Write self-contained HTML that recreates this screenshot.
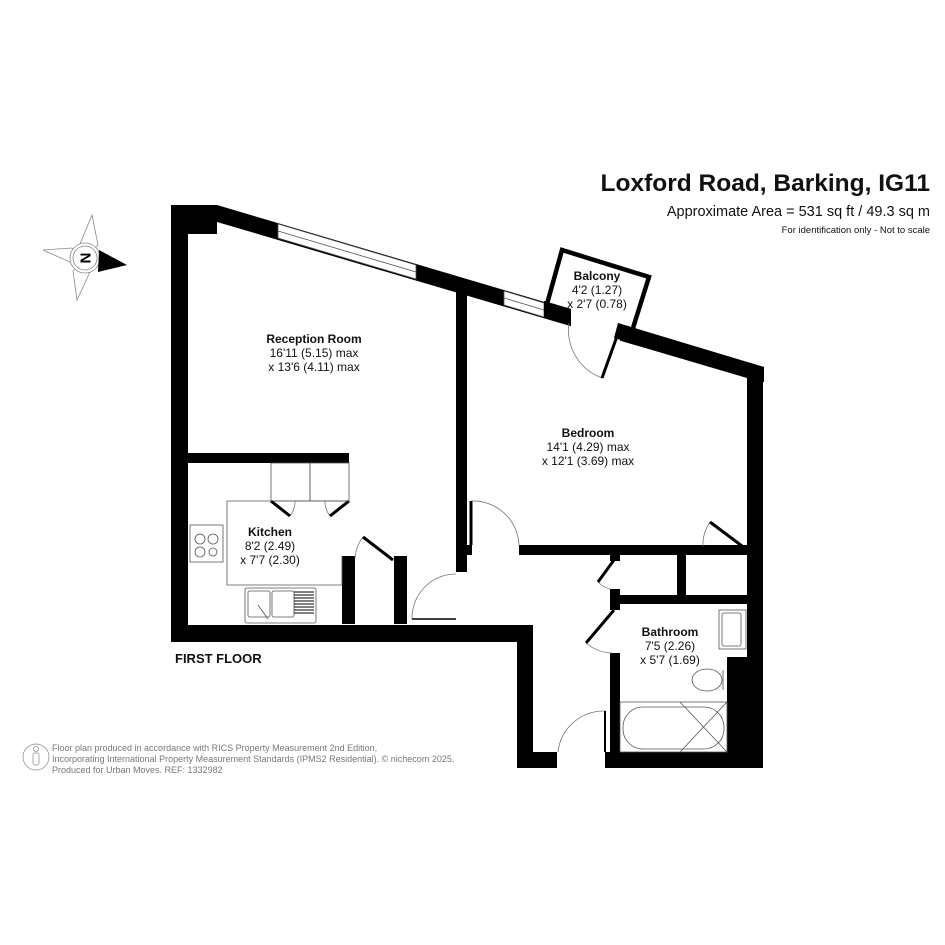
<!DOCTYPE html>
<html><head><meta charset="utf-8"><style>
html,body{margin:0;padding:0;background:#fff}
svg{display:block}
text{font-family:"Liberation Sans",Arial,sans-serif}
</style></head><body>
<svg width="945" height="945" viewBox="0 0 945 945" xmlns="http://www.w3.org/2000/svg">
<rect width="945" height="945" fill="#fff"/>
<!-- Title -->
<text x="930" y="191" text-anchor="end" font-size="24.5" font-weight="bold" fill="#111">Loxford Road, Barking, IG11</text>
<text x="930" y="216" text-anchor="end" font-size="14.5" fill="#111">Approximate Area = 531 sq ft / 49.3 sq m</text>
<text x="930" y="233" text-anchor="end" font-size="9.5" fill="#111">For identification only - Not to scale</text>

<!-- Compass -->
<g stroke="#888" stroke-width="0.8" fill="#fff">
<polygon points="92,215 98,245 85,258 80,244"/>
<polygon points="43,250 72,248 85,258 72,263"/>
<polygon points="77,300 73,271 85,258 90,272"/>
<circle cx="85" cy="258" r="15"/>
<circle cx="85" cy="258" r="12"/>
</g>
<polygon points="99,250 127,265 98,272" fill="#000"/>
<text x="85" y="258" font-size="15" font-weight="bold" text-anchor="middle" dominant-baseline="central" transform="rotate(90 85 258)">N</text>

<!-- Walls -->
<g fill="#000">
<rect x="171" y="205" width="17" height="437"/>
<rect x="171" y="205" width="46" height="29"/>
<polygon points="217,205 764,367 764,382 747,378 217,222"/>
<rect x="747" y="367" width="16" height="401"/>
<rect x="188" y="453" width="161" height="10"/>
<rect x="456" y="280" width="11" height="292"/>
<rect x="466" y="545" width="6" height="10"/>
<rect x="171" y="625" width="362" height="17"/>
<rect x="517" y="625" width="16" height="143"/>
<rect x="517" y="752" width="40" height="16"/>
<rect x="605" y="752" width="158" height="16"/>
<rect x="610" y="653" width="10" height="115"/>
<rect x="519" y="545" width="228" height="10"/>
<rect x="677" y="555" width="9" height="40"/>
<rect x="610" y="595" width="137" height="9"/>
<rect x="610" y="555" width="10" height="6"/>
<rect x="610" y="589" width="10" height="21"/>
<rect x="727" y="657" width="36" height="111"/>
<rect x="342" y="556" width="13" height="68"/>
<rect x="394" y="556" width="13" height="68"/>
</g>
<!-- opening at balcony door -->
<polygon points="571,305 620,320 620,345 571,330" fill="#fff"/>
<polygon points="544,301 571,309 571,326 544,318" fill="#000"/>
<polygon points="618,323 764,367 764,382 614,338" fill="#000"/>
<!-- Windows -->
<g stroke="#555" stroke-width="0.8" fill="#fff">
<polygon points="278,224 416,265 416,279 278,238"/>
<line x1="278" y1="231" x2="416" y2="272"/>
<polygon points="504,291 544,303 544,317 504,305"/>
<line x1="504" y1="298" x2="544" y2="310"/>
</g>
<!-- Balcony (open at bottom) -->
<polyline points="547,304 562,250 649,277 633,328" fill="none" stroke="#000" stroke-width="4.5"/>
<polygon points="544,301 571,309 571,326 544,318" fill="#000"/>

<!-- Doors -->
<g stroke="#777" stroke-width="0.8" fill="none">
<path d="M569,323 A51,51 0 0 0 602,378"/>
<path d="M471,501 A46,46 0 0 1 519,545"/>
<path d="M412,619 A44,44 0 0 1 456,574"/>
<path d="M605,711 A46,46 0 0 0 558,752"/>
<path d="M586,643 A43,43 0 0 0 612,653"/>
<path d="M598,582 A27,27 0 0 0 610,589"/>
<path d="M710,522 A40,40 0 0 0 703,546"/>
<path d="M363,537 A38,38 0 0 0 355,558"/>
<path d="M290,516 A24,24 0 0 0 295,501"/>
<path d="M330,516 A24,24 0 0 1 325,501"/>
</g>
<g stroke="#000" stroke-width="3" fill="none">
<line x1="620" y1="328" x2="602" y2="378"/>
<line x1="471" y1="501" x2="471" y2="545"/>
<line x1="412" y1="619" x2="456" y2="619" stroke-width="1.5"/>
<line x1="605" y1="711" x2="605" y2="752" stroke-width="2"/>
<line x1="614" y1="610" x2="586" y2="643"/>
<line x1="614" y1="560" x2="598" y2="582"/>
<line x1="742" y1="546" x2="710" y2="522"/>
<line x1="393" y1="560" x2="363" y2="537"/>
<line x1="271" y1="501" x2="290" y2="516"/>
<line x1="349" y1="501" x2="330" y2="516"/>
</g>

<!-- Kitchen fixtures -->
<g stroke="#555" stroke-width="0.8" fill="none">
<rect x="271" y="463" width="39" height="38"/>
<rect x="310" y="463" width="39" height="38"/>
<polyline points="342,556 342,585 227,585 227,501 349,501"/>
<rect x="190" y="525" width="33" height="37"/>
<circle cx="200" cy="539" r="5"/><circle cx="213" cy="539" r="5"/>
<circle cx="200" cy="552" r="5"/><circle cx="213" cy="552" r="4"/>
<rect x="245" y="588" width="71" height="35" rx="2"/>
<rect x="248" y="591" width="22" height="26" rx="2"/>
<rect x="272" y="591" width="22" height="26" rx="2"/>
<line x1="258" y1="605" x2="268" y2="619"/>
</g>
<g stroke="#000" stroke-width="1">
<line x1="294" y1="592" x2="314" y2="592"/><line x1="294" y1="595" x2="314" y2="595"/>
<line x1="294" y1="598" x2="314" y2="598"/><line x1="294" y1="601" x2="314" y2="601"/>
<line x1="294" y1="604" x2="314" y2="604"/><line x1="294" y1="607" x2="314" y2="607"/>
<line x1="294" y1="610" x2="314" y2="610"/><line x1="294" y1="613" x2="314" y2="613"/>
</g>

<!-- Bathroom fixtures -->
<g stroke="#555" stroke-width="0.8" fill="none">
<rect x="719" y="610" width="27" height="39"/>
<rect x="722" y="613" width="19" height="33" rx="2"/>
<ellipse cx="707" cy="680" rx="15" ry="11"/>
<line x1="723" y1="670" x2="723" y2="690"/>
<rect x="620" y="702" width="107" height="50"/>
<rect x="623" y="707" width="101" height="42" rx="20"/>
<line x1="680" y1="702" x2="727" y2="752"/>
<line x1="680" y1="752" x2="727" y2="702"/>
</g>

<!-- Labels -->
<g text-anchor="middle" font-size="12" fill="#111">
<text x="314" y="343" font-weight="bold">Reception Room</text>
<text x="314" y="357">16'11 (5.15) max</text>
<text x="314" y="371">x 13'6 (4.11) max</text>
<text x="597" y="280" font-weight="bold">Balcony</text>
<text x="597" y="294">4'2 (1.27)</text>
<text x="597" y="308">x 2'7 (0.78)</text>
<text x="588" y="437" font-weight="bold">Bedroom</text>
<text x="588" y="451">14'1 (4.29) max</text>
<text x="588" y="465">x 12'1 (3.69) max</text>
<text x="270" y="536" font-weight="bold">Kitchen</text>
<text x="270" y="550">8'2 (2.49)</text>
<text x="270" y="564">x 7'7 (2.30)</text>
<text x="670" y="636" font-weight="bold">Bathroom</text>
<text x="670" y="650">7'5 (2.26)</text>
<text x="670" y="664">x 5'7 (1.69)</text>
</g>
<text x="175" y="663" font-size="13" font-weight="bold" fill="#111">FIRST FLOOR</text>

<!-- Footer -->
<g stroke="#888" stroke-width="0.7" fill="none">
<circle cx="36" cy="757" r="13"/>
<circle cx="36" cy="749" r="2.5"/>
<rect x="33" y="753" width="6" height="12" rx="2"/>
</g>
<g font-size="9" fill="#777">
<text x="52" y="751">Floor plan produced in accordance with RICS Property Measurement 2nd Edition,</text>
<text x="52" y="762">Incorporating International Property Measurement Standards (IPMS2 Residential).   © nichecom 2025.</text>
<text x="52" y="773">Produced for Urban Moves.   REF: 1332982</text>
</g>
</svg>
</body></html>
